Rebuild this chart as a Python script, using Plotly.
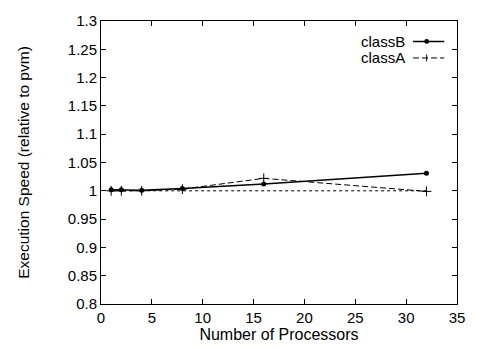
import plotly.graph_objects as go

processors = [1, 2, 4, 8, 16, 32]
classB = [1.002, 1.002, 1.001, 1.004, 1.012, 1.031]
classA = [1.000, 1.000, 1.000, 1.003, 1.022, 0.999]
baseline = [1.0, 1.0, 1.0, 1.0, 1.0, 1.0]

x_ticks = [0, 5, 10, 15, 20, 25, 30, 35]
y_ticks = [0.8, 0.85, 0.9, 0.95, 1.0, 1.05, 1.1, 1.15, 1.2, 1.25, 1.3]
y_labels = ["0.8", "0.85", "0.9", "0.95", "1", "1.05", "1.1", "1.15", "1.2", "1.25", "1.3"]

FONT = "Liberation Sans, Arial, sans-serif"

fig = go.Figure()
fig.add_trace(go.Scatter(x=processors, y=baseline, mode="lines",
                         line=dict(color="black", width=1, dash="dot"),
                         showlegend=False))
fig.add_trace(go.Scatter(x=processors, y=classA, mode="lines+markers", name="classA",
                         line=dict(color="black", width=1, dash="6px,3px"),
                         marker=dict(symbol="cross-thin", size=7, line=dict(color="black", width=1)),
                         showlegend=False))
fig.add_trace(go.Scatter(x=processors, y=classB, mode="lines+markers", name="classB",
                         line=dict(color="black", width=1.5),
                         marker=dict(symbol="circle", size=5, color="black"),
                         showlegend=False))

# legend (gnuplot style: text then sample on the right)
legend_items = [("classB", "solid", "circle"), ("classA", "6px,3px", "cross")]
shapes = []
annotations = []
for i, (name, dash, mk) in enumerate(legend_items):
    ypix = 35 + i * 17
    yp = 1 - (ypix - 14) / 291.0
    annotations.append(dict(text=name, xref="paper", yref="paper", x=(414 - 101) / 364.0, y=yp,
                            xanchor="right", yanchor="middle", showarrow=False,
                            font=dict(family=FONT, size=15, color="black")))
    shapes.append(dict(type="line", xref="paper", yref="paper",
                       x0=(420 - 101) / 364.0, x1=(452 - 101) / 364.0, y0=yp, y1=yp,
                       line=dict(color="black", width=1.5 if dash == "solid" else 1,
                                 dash=dash)))
    cx = (434 - 101) / 364.0
    if mk == "circle":
        shapes.append(dict(type="circle", xref="paper", yref="paper",
                           x0=cx - 2.5 / 364, x1=cx + 2.5 / 364, y0=yp - 2.5 / 291, y1=yp + 2.5 / 291,
                           fillcolor="black", line=dict(color="black", width=0)))
    else:
        shapes.append(dict(type="line", xref="paper", yref="paper",
                           x0=cx, x1=cx, y0=yp - 3.5 / 291, y1=yp + 3.5 / 291,
                           line=dict(color="black", width=1)))

fig.update_layout(
    width=477, height=349,
    margin=dict(l=101, r=12, t=14, b=44),
    paper_bgcolor="white", plot_bgcolor="white",
    font=dict(family=FONT, size=15, color="black"),
    shapes=shapes, annotations=annotations,
    xaxis=dict(range=[0, 35], tickvals=x_ticks, ticks="inside", ticklen=5, tickcolor="black",
               showline=True, linecolor="black", linewidth=1, mirror="ticks",
               showgrid=False, zeroline=False,
               title=dict(text="Number of Processors", standoff=0, font=dict(size=16)),
               tickfont=dict(size=15)),
    yaxis=dict(range=[0.8, 1.3], tickvals=y_ticks, ticktext=y_labels, ticks="inside", ticklen=5,
               tickcolor="black", showline=True, linecolor="black", linewidth=1, mirror="ticks",
               showgrid=False, zeroline=False,
               title=dict(text="Execution Speed (relative to pvm)", standoff=34, font=dict(size=15.5)),
               tickfont=dict(size=15)),
)

fig.write_html("out.html")
